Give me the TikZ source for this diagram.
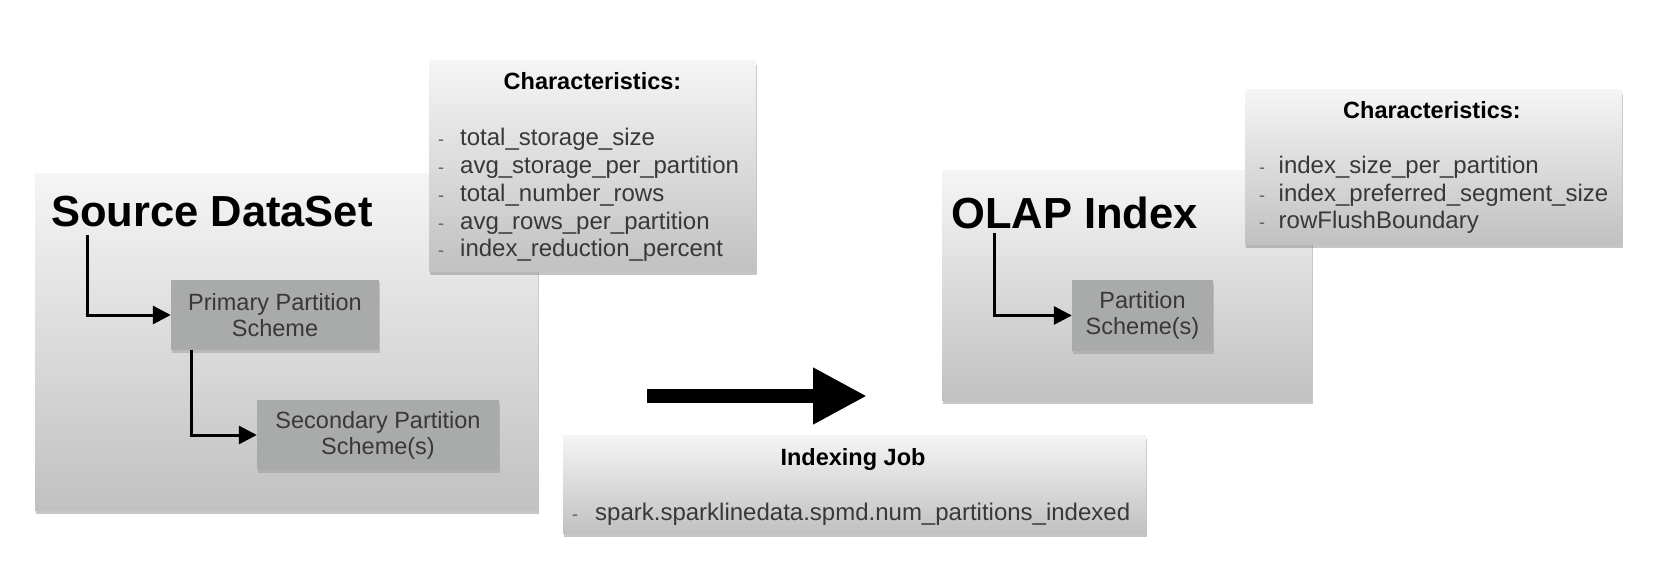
\documentclass[tikz,border=0pt]{standalone}
\usepackage{fontspec}
\setmainfont{Liberation Sans}
\usepackage{xcolor}
\usetikzlibrary{arrows.meta,positioning,shadows,calc}

\definecolor{panelTop}{HTML}{F5F5F5}
\definecolor{panelBot}{HTML}{C1C1C1}
\definecolor{partFill}{HTML}{A9ABAA}
\definecolor{itemGray}{HTML}{383838}

\tikzset{
  panel/.style={draw=none, top color=panelTop, bottom color=panelBot, inner sep=0pt,
    drop shadow={shadow xshift=1pt, shadow yshift=-4pt, opacity=0.45}},
  partbox/.style={fill=partFill, text=itemGray, align=center, inner sep=0pt,
    font=\fontsize{23.5}{26}\selectfont,
    drop shadow={shadow xshift=1pt, shadow yshift=-3pt, opacity=0.35}},
  bigtitle/.style={font=\fontsize{43.5}{50}\selectfont\bfseries, anchor=base west, inner sep=0pt},
  boxtitle/.style={font=\fontsize{23.5}{28}\selectfont\bfseries, anchor=base, inner sep=0pt},
  item/.style={font=\fontsize{24}{28}\selectfont, text=itemGray, anchor=base west, inner sep=0pt},
  dashmark/.style={font=\fontsize{18}{20}\selectfont, text=itemGray!80, anchor=base west, inner sep=0pt},
  elbow/.style={line width=3pt, -{Triangle[length=18pt,width=18pt]}},
}

\begin{document}
\begin{tikzpicture}[x=1pt,y=-1pt]
\useasboundingbox (0,0) rectangle (1672,588);
% Source dataset panel with its two partition schemes
\node[panel, minimum width=503pt, minimum height=336pt] (src) at (286.5,342) {};
\node[bigtitle] (srctitle) at (51,226) {Source DataSet};
\node[partbox, minimum width=208pt, minimum height=70pt] (primary) at (275,315) {Primary Partition\\Scheme};
\node[partbox, minimum width=242pt, minimum height=70pt] (secondary) at (378,435) {Secondary Partition\\Scheme(s)};
\coordinate (srcjoint) at (87,235);
\coordinate (primjoint) at ($(primary.south west)+(21,0)$);
\draw[elbow] (srcjoint) |- (primary.west);
\draw[elbow] (primjoint) |- (secondary.west);
% Characteristics of the source
\node[panel, minimum width=327pt, minimum height=210pt] (srcchar) at (592.5,166) {};
\node[boxtitle] (srccharttl) at (592.5,90) {Characteristics:};
\foreach \txt [count=\i] in {total\_storage\_size, avg\_storage\_per\_partition,
    total\_number\_rows, avg\_rows\_per\_partition, index\_reduction\_percent} {
  \node[dashmark] (srcdash\i) at (438,118.3+27.7*\i) {-};
  \node[item] (srcitem\i) at (460,118.3+27.7*\i) {\txt};
}
% Indexing job
\coordinate (bigstart) at (647,396);
\coordinate (bigend) at (867,396);
\draw[line width=14pt, -{Triangle[length=54pt,width=53pt]}] (bigstart) -- (bigend);
\node[panel, minimum width=583pt, minimum height=98pt] (job) at (854.5,484) {};
\node[boxtitle] (jobttl) at (853,465) {Indexing Job};
\node[dashmark] (jobdash) at (572,520) {-};
\node[item] (jobitem) at (595,520) {spark.sparklinedata.spmd.num\_partitions\_indexed};
% OLAP index panel
\node[panel, minimum width=370pt, minimum height=229pt] (olap) at (1127,285.5) {};
\node[bigtitle] (olapttl) at (951,228) {OLAP Index};
\node[partbox, minimum width=141pt, minimum height=71pt] (olappart) at (1142.5,315.5) {Partition\\Scheme(s)};
\coordinate (olapjoint) at (994,233);
\draw[elbow] (olapjoint) |- (olappart.west);
% Characteristics of the index
\node[panel, minimum width=377pt, minimum height=154pt] (olapchar) at (1433.5,167) {};
\node[boxtitle] (olapcharttl) at (1432,119) {Characteristics:};
\foreach \txt [count=\i] in {index\_size\_per\_partition, index\_preferred\_segment\_size,
    rowFlushBoundary} {
  \node[dashmark] (olapdash\i) at (1259,145.7+27.7*\i) {-};
  \node[item] (olapitem\i) at (1278.5,145.7+27.7*\i) {\txt};
}
\end{tikzpicture}
\end{document}
